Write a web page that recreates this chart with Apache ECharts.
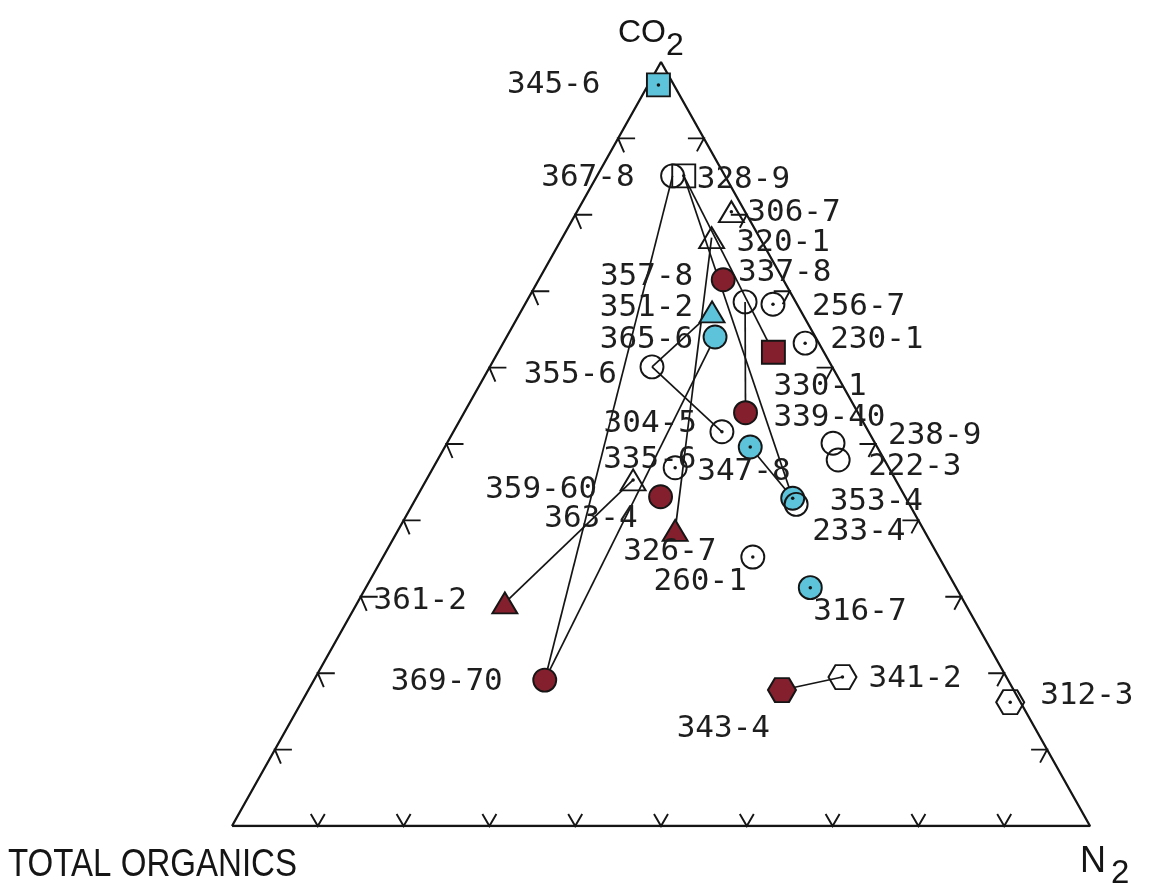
<!DOCTYPE html>
<html>
<head>
<meta charset="utf-8">
<script src="https://cdn.jsdelivr.net/npm/echarts@6/dist/echarts.min.js"></script>
<style>
  html, body { margin: 0; padding: 0; background: #ffffff; }
  #chart { width: 1154px; height: 889px; }
</style>
</head>
<body>
<div id="chart"></div>
<script>
// Gas samples: percent CO2 and N2 (total organics is the remainder)
const samples = ['345-6','367-8','328-9','306-7','320-1','357-8','337-8','256-7','351-2','365-6',
  '230-1','330-1','355-6','339-40','304-5','347-8','238-9','222-3','353-4','233-4',
  '335-6','359-60','363-4','326-7','260-1','316-7','361-2','369-70','341-2','343-4','312-3'];
const co2 = [97.0, 85.1, 85.1, 80.4, 77.0, 71.5, 68.6, 68.3, 67.3, 64.0,
  63.2, 62.0, 60.1, 54.1, 51.6, 49.6, 50.1, 47.9, 42.9, 42.1,
  46.9, 45.3, 43.1, 38.7, 35.2, 31.2, 29.2, 19.1, 19.5, 17.8, 16.2];
const n2 = [1.2, 8.8, 10.1, 18.0, 17.4, 21.5, 25.5, 28.9, 22.3, 24.3,
  35.2, 32.1, 18.9, 32.8, 31.3, 35.6, 45.0, 46.7, 43.9, 44.7,
  28.2, 24.1, 28.4, 32.3, 43.1, 51.8, 17.2, 26.9, 61.4, 55.2, 82.6];
// sample type: marker shape, fill class, and whether a centre dot is marked
const shapes = ['square','circle','square','triangle','triangle','circle','circle','circle','triangle','circle',
  'circle','square','circle','circle','circle','circle','circle','circle','circle','circle',
  'circle','triangle','circle','triangle','circle','circle','triangle','circle','hexagon','hexagon','hexagon'];
const kinds = ['blue','open','open','open','open','red','open','open','blue','blue',
  'open','red','open','red','open','blue','open','open','blue','open',
  'open','open','red','red','open','blue','red','red','open','red','open'];
const dotted = [1,0,1,1,0,0,0,1,0,0, 1,0,0,0,1,1,0,0,1,0, 1,1,0,0,1,1,0,0,1,0,1];
// connected sample pairs
const links = [['367-8','369-70'], ['328-9','330-1'], ['328-9','353-4'], ['320-1','326-7'],
  ['351-2','355-6'], ['355-6','304-5'], ['365-6','369-70'], ['337-8','339-40'],
  ['347-8','353-4'], ['361-2','359-60'], ['343-4','341-2']];
// tick marks every 10 percent on each side
const tickSteps = [10, 20, 30, 40, 50, 60, 70, 80, 90];

// label placement beside each marker: [align, dx, dy]
const labelLayout = {
  '345-6': ['right', -58, 0], '367-8': ['right', -38, 2], '328-9': ['left', 13, 4],
  '306-7': ['left', 16, 1], '320-1': ['left', 25, 5], '357-8': ['right', -30, -3],
  '337-8': ['left', -7, -29], '256-7': ['left', 39, 3], '351-2': ['right', -19, -4],
  '365-6': ['right', -22, 3], '230-1': ['left', 25, -3], '330-1': ['left', 0, 35],
  '355-6': ['right', -35, 8], '339-40': ['left', 28, 5], '304-5': ['right', -25, -8],
  '347-8': ['left', -53, 25], '238-9': ['left', 55, -7], '222-3': ['left', 30, 7],
  '353-4': ['left', 37, 4], '233-4': ['left', 16, 28], '335-6': ['left', -72, -8],
  '359-60': ['right', -36, 10], '363-4': ['right', -23, 22], '326-7': ['left', -52, 22],
  '260-1': ['right', -6, 25], '316-7': ['left', 3, 24], '361-2': ['right', -38, -2],
  '369-70': ['right', -42, 2], '341-2': ['left', 26, 2], '343-4': ['right', -12, 39],
  '312-3': ['left', 30, -6]
};

const INK = '#151515';
const FILLS = { open: 'rgba(0,0,0,0)', red: '#84202d', blue: '#5cc3da' };
const HEX = 'path://M0,8.66 L5,0 L15,0 L20,8.66 L15,17.32 L5,17.32 Z';
const SYMBOLS = {
  circle: { symbol: 'circle', size: 23 },
  square: { symbol: 'rect', size: 23 },
  triangle: { symbol: 'triangle', size: [25, 21] },
  hexagon: { symbol: HEX, size: [28, 24] }
};

// ternary (CO2 %, N2 %) -> plane: organics at (0,0), N2 at (1,0), CO2 at (0.5,1)
function toXY(c, n) { return [n / 100 + c / 200, c / 100]; }

const index = {};
samples.forEach((s, i) => { index[s] = i; });

const pointData = samples.map((s, i) => {
  const sym = SYMBOLS[shapes[i]];
  const lay = labelLayout[s];
  return {
    name: s,
    value: toXY(co2[i], n2[i]),
    symbol: sym.symbol,
    symbolSize: sym.size,
    itemStyle: { color: FILLS[kinds[i]], borderColor: INK, borderWidth: 1.9, opacity: 1 },
    label: {
      show: true, formatter: s, position: 'inside',
      align: lay[0], verticalAlign: 'middle', offset: [lay[1], lay[2]]
    }
  };
});

const dotData = samples.filter((s, i) => dotted[i]).map(s => {
  const i = index[s];
  return toXY(co2[i], n2[i]);
});

const linkData = links.map(([a, b]) => ({
  coords: [toXY(co2[index[a]], n2[index[a]]), toXY(co2[index[b]], n2[index[b]])]
}));

// edge 0 = organics–CO2 side, 1 = CO2–N2 side, 2 = organics–N2 base
const tickData = [];
[0, 1, 2].forEach(edge => tickSteps.forEach(t => tickData.push([edge, t])));

const outline = [toXY(0, 0), toXY(100, 0), toXY(0, 100), toXY(0, 0)];

function renderTick(params, api) {
  const edge = api.value(0), t = api.value(1);
  let p, pts;
  if (edge === 0) {
    p = api.coord(toXY(t, 0));
    pts = [[p[0] + 17, p[1]], [p[0], p[1]], [p[0] + 6, p[1] + 14]];
  } else if (edge === 1) {
    p = api.coord(toXY(t, 100 - t));
    pts = [[p[0] - 16, p[1]], [p[0], p[1]], [p[0] - 7, p[1] + 13]];
  } else {
    p = api.coord(toXY(0, t));
    pts = [[p[0] - 7, p[1] - 12], [p[0], p[1]], [p[0] + 7, p[1] - 12]];
  }
  return { type: 'polyline', shape: { points: pts }, style: { stroke: INK, lineWidth: 1.9, fill: 'none' } };
}

const TITLE_FONT = 'Liberation Sans';
const chart = echarts.init(document.getElementById('chart'), null, { renderer: 'canvas' });
chart.setOption({
  backgroundColor: '#ffffff',
  animation: false,
  grid: { left: 232, right: 64, top: 62, bottom: 63 },
  xAxis: { type: 'value', min: 0, max: 1, show: false },
  yAxis: { type: 'value', min: 0, max: 1, show: false },
  textStyle: { fontFamily: 'DejaVu Sans Mono' },
  graphic: [
    { type: 'text', x: 618, y: 33, style: { text: 'CO', font: '32px "' + TITLE_FONT + '"', fill: INK, verticalAlign: 'middle' } },
    { type: 'text', x: 666, y: 46, style: { text: '2', font: '32px "' + TITLE_FONT + '"', fill: INK, verticalAlign: 'middle' } },
    { type: 'text', x: 8, y: 866, scaleX: 0.87, style: { text: 'TOTAL ORGANICS', font: '38px "' + TITLE_FONT + '"', fill: INK, verticalAlign: 'middle' } },
    { type: 'text', x: 1080, y: 862, style: { text: 'N', font: '36px "' + TITLE_FONT + '"', fill: INK, verticalAlign: 'middle' } },
    { type: 'text', x: 1111, y: 874, style: { text: '2', font: '33px "' + TITLE_FONT + '"', fill: INK, verticalAlign: 'middle' } }
  ],
  series: [
    {
      type: 'line', data: outline, symbol: 'none', silent: true, z: 1,
      lineStyle: { color: INK, width: 2.3 }
    },
    {
      type: 'custom', data: tickData, renderItem: renderTick, silent: true, z: 1,
      encode: { x: -1, y: -1 }
    },
    {
      type: 'lines', coordinateSystem: 'cartesian2d', data: linkData, silent: true, z: 2,
      lineStyle: { color: INK, width: 1.7, opacity: 1 }
    },
    {
      type: 'scatter', data: pointData, z: 3,
      itemStyle: { opacity: 1 },
      label: { fontFamily: 'DejaVu Sans Mono', fontSize: 31, color: '#1e1e1e' }
    },
    {
      type: 'scatter', data: dotData, symbol: 'circle', symbolSize: 3.5, z: 4, silent: true,
      itemStyle: { color: INK, opacity: 1 }
    }
  ]
});
</script>
</body>
</html>
